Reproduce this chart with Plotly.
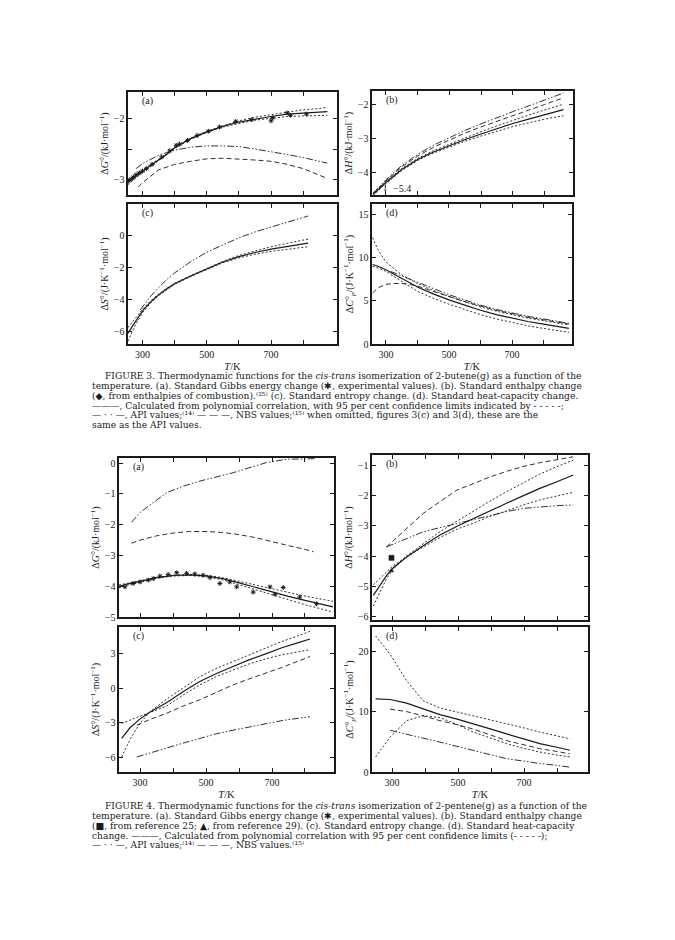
import plotly.graph_objects as go

# ================= DATA =================
# ---- Figure 3 (2-butene) ----
# (a) Gibbs energy
f3a_T = [255, 275, 300, 325, 350, 375, 400, 450, 500, 550, 600, 650, 700, 750, 800, 850, 875]
f3a_calc = [-3.04, -2.96, -2.86, -2.77, -2.68, -2.59, -2.48, -2.33, -2.22, -2.13, -2.06, -2.01, -1.97, -1.93, -1.91, -1.90, -1.89]
f3a_upper = [-3.00, -2.93, -2.84, -2.75, -2.67, -2.58, -2.47, -2.32, -2.21, -2.12, -2.04, -1.98, -1.94, -1.89, -1.86, -1.84, -1.82]
f3a_lower = [-3.08, -2.99, -2.88, -2.79, -2.69, -2.60, -2.49, -2.34, -2.23, -2.14, -2.08, -2.03, -2.00, -1.97, -1.96, -1.95, -1.95]
f3a_api_T = [280, 300, 350, 400, 450, 500, 550, 600, 650, 700, 750, 800, 850, 875]
f3a_api = [-2.82, -2.74, -2.60, -2.52, -2.47, -2.45, -2.45, -2.46, -2.50, -2.54, -2.59, -2.64, -2.70, -2.73]
f3a_nbs_T = [287, 300, 350, 400, 450, 500, 550, 600, 650, 700, 750, 800, 850, 875]
f3a_nbs = [-3.12, -3.05, -2.84, -2.75, -2.70, -2.66, -2.65, -2.66, -2.68, -2.70, -2.75, -2.82, -2.92, -2.98]
f3a_exp_T = [257, 265, 272, 280, 290, 300, 312, 330, 360, 385, 405, 415, 440, 470, 505, 540, 590, 640, 700, 705, 750, 760, 810]
f3a_exp = [-3.02, -2.99, -2.96, -2.92, -2.89, -2.86, -2.82, -2.75, -2.63, -2.53, -2.44, -2.42, -2.36, -2.28, -2.21, -2.14, -2.05, -2.02, -2.04, -1.99, -1.91, -1.95, -1.93]

# (b) enthalpy
f3b_T = [260, 300, 350, 400, 450, 500, 550, 600, 650, 700, 750, 800, 860]
f3b_calc = [-4.65, -4.30, -3.92, -3.62, -3.40, -3.21, -3.03, -2.87, -2.71, -2.56, -2.43, -2.30, -2.15]
f3b_upper = [-4.60, -4.26, -3.89, -3.59, -3.36, -3.17, -2.98, -2.80, -2.63, -2.46, -2.31, -2.16, -1.99]
f3b_lower = [-4.68, -4.33, -3.95, -3.65, -3.43, -3.25, -3.08, -2.93, -2.79, -2.65, -2.54, -2.43, -2.33]
f3b_api = [-4.62, -4.22, -3.80, -3.47, -3.20, -2.97, -2.76, -2.57, -2.38, -2.21, -2.04, -1.87, -1.66]
f3b_nbs = [-4.64, -4.25, -3.84, -3.52, -3.26, -3.04, -2.84, -2.66, -2.49, -2.32, -2.16, -2.00, -1.80]
f3b_comb_T = [298]
f3b_comb = [-5.4]          # off scale: drawn as a marker with a downward arrow

# (c) entropy
f3c_T = [255, 275, 300, 325, 350, 375, 400, 450, 500, 550, 600, 650, 700, 750, 815]
f3c_calc = [-6.10, -5.45, -4.70, -4.15, -3.70, -3.33, -3.00, -2.52, -2.08, -1.64, -1.30, -1.04, -0.83, -0.65, -0.45]
f3c_upper = [-5.75, -5.25, -4.60, -4.08, -3.65, -3.29, -2.97, -2.49, -2.05, -1.60, -1.22, -0.93, -0.68, -0.47, -0.20]
f3c_lower = [-6.60, -5.70, -4.82, -4.22, -3.75, -3.37, -3.04, -2.55, -2.11, -1.68, -1.38, -1.15, -0.97, -0.83, -0.68]
f3c_api_T = [293, 325, 350, 375, 400, 450, 500, 550, 600, 650, 700, 750, 815]
f3c_api = [-4.64, -3.80, -3.25, -2.75, -2.32, -1.62, -1.02, -0.55, -0.12, 0.25, 0.55, 0.85, 1.25]

# (d) heat capacity
f3d_T = [258, 275, 300, 325, 350, 375, 400, 450, 500, 550, 600, 650, 700, 750, 800, 880]
f3d_calc = [9.2, 9.0, 8.6, 8.1, 7.6, 7.1, 6.6, 5.8, 5.1, 4.5, 3.9, 3.4, 3.0, 2.6, 2.3, 1.8]
f3d_upper = [12.3, 10.9, 9.5, 8.7, 8.0, 7.5, 7.0, 6.2, 5.5, 4.9, 4.3, 3.8, 3.4, 3.0, 2.7, 2.2]
f3d_lower = [9.0, 8.8, 8.4, 7.8, 7.2, 6.6, 6.1, 5.3, 4.6, 4.0, 3.4, 2.9, 2.5, 2.1, 1.8, 1.35]
f3d_api_T = [315, 350, 375, 400, 450, 500, 550, 600, 650, 700, 750, 800, 880]
f3d_api = [8.4, 7.9, 7.5, 7.1, 6.4, 5.7, 5.1, 4.5, 4.0, 3.6, 3.2, 2.9, 2.4]
f3d_nbs = [5.9, 6.5, 6.9, 7.0, 7.0, 6.9, 6.7, 6.1, 5.5, 4.9, 4.4, 3.9, 3.5, 3.1, 2.8, 2.3]

# ---- Figure 4 (2-pentene) ----
# (a) Gibbs energy
f4a_T = [236, 260, 300, 350, 400, 450, 500, 550, 600, 650, 700, 750, 800, 850, 885]
f4a_calc = [-4.00, -3.93, -3.84, -3.72, -3.65, -3.63, -3.66, -3.75, -3.89, -4.04, -4.19, -4.33, -4.46, -4.58, -4.67]
f4a_upper = [-3.96, -3.90, -3.82, -3.71, -3.64, -3.62, -3.64, -3.72, -3.84, -3.97, -4.10, -4.21, -4.32, -4.42, -4.49]
f4a_lower = [-4.05, -3.97, -3.87, -3.74, -3.67, -3.65, -3.69, -3.79, -3.95, -4.11, -4.28, -4.45, -4.60, -4.74, -4.84]
f4a_api_T = [274, 300, 350, 380, 430, 481, 530, 582, 630, 683, 744, 790, 835]
f4a_api = [-1.92, -1.60, -1.20, -0.96, -0.75, -0.58, -0.45, -0.31, -0.15, 0.02, 0.13, 0.15, 0.15]
f4a_nbs_T = [274, 300, 350, 400, 450, 500, 550, 600, 650, 700, 750, 800, 826]
f4a_nbs = [-2.60, -2.50, -2.36, -2.27, -2.22, -2.22, -2.25, -2.32, -2.42, -2.56, -2.68, -2.80, -2.88]
f4a_exp_T = [254, 279, 300, 325, 340, 360, 385, 411, 441, 466, 491, 512, 542, 572, 593, 643, 694, 709, 734, 784, 835]
f4a_exp = [-4.02, -3.91, -3.86, -3.80, -3.75, -3.67, -3.62, -3.56, -3.58, -3.60, -3.64, -3.72, -3.91, -3.86, -4.02, -4.19, -4.02, -4.26, -4.04, -4.35, -4.57]

# (b) enthalpy
f4b_T = [243, 283, 300, 344, 400, 445, 500, 546, 600, 647, 700, 748, 800, 849]
f4b_calc = [-5.30, -4.65, -4.42, -4.03, -3.62, -3.31, -3.00, -2.76, -2.49, -2.26, -2.00, -1.77, -1.55, -1.33]
f4b_conf1 = [-5.65, -4.75, -4.47, -4.00, -3.55, -3.20, -2.83, -2.52, -2.17, -1.88, -1.57, -1.30, -1.05, -0.84]
f4b_conf2 = [-4.95, -4.55, -4.35, -4.02, -3.66, -3.39, -3.10, -2.92, -2.68, -2.50, -2.31, -2.15, -2.02, -1.90]
f4b_ref_T = [283, 350, 395, 450, 496, 550, 597, 650, 697, 750, 800, 849]
f4b_api = [-3.70, -3.40, -3.20, -3.05, -2.93, -2.78, -2.65, -2.53, -2.43, -2.38, -2.34, -2.32]
f4b_nbs = [-3.70, -3.05, -2.59, -2.17, -1.83, -1.60, -1.39, -1.20, -1.05, -0.92, -0.82, -0.73]
f4b_ref25_T = [298]
f4b_ref25 = [-4.06]
f4b_ref29_T = [298]
f4b_ref29 = [-4.49]

# (c) entropy
f4c_T = [244, 270, 300, 330, 380, 430, 481, 530, 582, 630, 683, 730, 780, 815]
f4c_calc = [-4.35, -3.40, -2.65, -2.05, -1.25, -0.30, 0.58, 1.25, 1.88, 2.45, 3.00, 3.50, 3.95, 4.26]
f4c_conf1 = [-5.95, -4.40, -3.00, -2.05, -0.95, 0.05, 1.00, 1.70, 2.30, 2.90, 3.50, 4.05, 4.55, 4.92]
f4c_conf2 = [-3.04, -2.75, -2.45, -2.10, -1.55, -0.60, 0.29, 1.00, 1.60, 2.10, 2.55, 2.90, 3.15, 3.33]
f4c_ref_T = [290, 330, 380, 430, 481, 530, 582, 630, 683, 730, 780, 815]
f4c_api = [-5.95, -5.60, -5.20, -4.75, -4.35, -3.95, -3.63, -3.35, -3.05, -2.80, -2.60, -2.47]
f4c_nbs = [-3.20, -2.70, -2.17, -1.55, -1.00, -0.35, 0.29, 0.80, 1.30, 1.80, 2.35, 2.75]

# (d) heat capacity
f4d_T = [250, 294, 344, 394, 445, 500, 546, 600, 647, 700, 748, 800, 839]
f4d_calc = [12.1, 12.0, 11.4, 10.4, 9.5, 8.7, 8.0, 7.1, 6.3, 5.4, 4.7, 4.1, 3.6]
f4d_conf1 = [22.5, 19.5, 15.1, 11.8, 10.6, 9.9, 9.3, 8.6, 8.0, 7.3, 6.6, 6.0, 5.5]
f4d_conf2 = [2.5, 5.8, 8.5, 9.3, 9.0, 7.8, 6.6, 5.6, 4.7, 3.9, 3.3, 2.8, 2.5]
f4d_ref_T = [294, 344, 394, 445, 500, 546, 600, 647, 700, 748, 800, 839]
f4d_api = [6.9, 6.3, 5.6, 4.95, 4.2, 3.6, 2.9, 2.2, 1.8, 1.4, 1.1, 0.8]
f4d_nbs = [10.4, 10.0, 9.3, 8.5, 7.8, 7.1, 6.1, 5.2, 4.5, 3.85, 3.4, 3.0]

# tick values / labels
x_major = [300, 500, 700]
x_major_text = ["300", "500", "700"]
x_minor = [400, 600, 800]

# ================= FIGURE =================
W, H = 675, 940
FONT = "Liberation Serif, DejaVu Serif, serif"
CAPFONT = "DejaVu Serif, Liberation Serif, serif"
INK = "#1a1a1a"

STY = {
    "calc": dict(color=INK, width=1.2),
    "conf": dict(color=INK, width=0.9, dash="2px,2px"),
    "api": dict(color=INK, width=0.9, dash="7px,2px,1.5px,2px,1.5px,2px"),
    "nbs": dict(color=INK, width=0.9, dash="5px,3px"),
}

# panel boxes in pixels: left, right, top, bottom
boxes = {
    1: (128, 337, 92, 195),
    2: (372, 573, 91, 195),
    3: (128, 337, 204, 344),
    4: (372, 572, 204, 344),
    5: (119, 334, 458, 617),
    6: (372, 588, 455, 620),
    7: (119, 334, 627, 772),
    8: (372, 588, 627, 772),
}
xranges = {1: [255, 905], 2: [256, 890], 3: [255, 905], 4: [256, 890],
           5: [236, 888], 6: [239, 894], 7: [236, 888], 8: [239, 894]}
yranges = {1: [-3.25, -1.57], 2: [-4.67, -1.60], 3: [-6.78, 2.0], 4: [0, 16.2],
           5: [-5.0, 0.17], 6: [-6.11, -0.67], 7: [-7.25, 5.3], 8: [0, 24.0]}
yticks = {
    1: ([-3, -2], ["−3", "−2"], [-2.5]),
    2: ([-4, -3, -2], ["−4", "−3", "−2"], []),
    3: ([-6, -4, -2, 0], ["−6", "−4", "−2", "0"], []),
    4: ([0, 5, 10, 15], ["0", "5", "10", "15"], []),
    5: ([-5, -4, -3, -2, -1, 0], ["−5", "−4", "−3", "−2", "−1", "0"], []),
    6: ([-6, -5, -4, -3, -2, -1], ["−6", "−5", "−4", "−3", "−2", "−1"], []),
    7: ([-6, -3, 0, 3], ["−6", "−3", "0", "3"], []),
    8: ([0, 10, 20], ["0", "10", "20"], []),
}
ytitles = {
    1: "Δ<i>G</i>°/(kJ·mol<sup>−1</sup>)",
    2: "Δ<i>H</i>°/(kJ·mol<sup>−1</sup>)",
    3: "Δ<i>S</i>°/(J·K<sup>−1</sup>·mol<sup>−1</sup>)",
    4: "Δ<i>C</i>°<sub><i>p</i></sub>/(J·K<sup>−1</sup>·mol<sup>−1</sup>)",
    5: "Δ<i>G</i>°/(kJ·mol<sup>−1</sup>)",
    6: "Δ<i>H</i>°/(kJ·mol<sup>−1</sup>)",
    7: "Δ<i>S</i>°/(J·K<sup>−1</sup>·mol<sup>−1</sup>)",
    8: "Δ<i>C</i>°<sub><i>p</i></sub>/(J·K<sup>−1</sup>·mol<sup>−1</sup>)",
}
bottom_panels = {3, 4, 7, 8}
letters = {1: "(a)", 2: "(b)", 3: "(c)", 4: "(d)", 5: "(a)", 6: "(b)", 7: "(c)", 8: "(d)"}

fig = go.Figure()


def line(i, xs, ys, kind):
    fig.add_trace(go.Scatter(x=xs, y=ys, mode="lines", line=STY[kind],
                             xaxis=f"x{i}", yaxis=f"y{i}", showlegend=False,
                             hoverinfo="skip"))


def pts(i, xs, ys, symbol, size, lw=0.6):
    fig.add_trace(go.Scatter(x=xs, y=ys, mode="markers",
                             marker=dict(symbol=symbol, size=size, color=INK,
                                         line=dict(width=lw, color=INK)),
                             xaxis=f"x{i}", yaxis=f"y{i}", showlegend=False,
                             hoverinfo="skip"))


# Fig 3
line(1, f3a_T, f3a_upper, "conf"); line(1, f3a_T, f3a_lower, "conf"); line(1, f3a_T, f3a_calc, "calc")
line(1, f3a_api_T, f3a_api, "api"); line(1, f3a_nbs_T, f3a_nbs, "nbs")
pts(1, f3a_exp_T, f3a_exp, "asterisk-open", 4, 1.0)

line(2, f3b_T, f3b_upper, "conf"); line(2, f3b_T, f3b_lower, "conf"); line(2, f3b_T, f3b_calc, "calc")
line(2, f3b_T, f3b_api, "api"); line(2, f3b_T, f3b_nbs, "nbs")
# off-scale combustion point: diamond just above the axis with an arrow pointing down
ylo2 = yranges[2][0]
fig.add_trace(go.Scatter(x=[f3b_comb_T[0], f3b_comb_T[0]], y=[ylo2 + 0.30, ylo2 + 0.02],
                         mode="lines+markers", line=dict(color=INK, width=1),
                         marker=dict(symbol=["diamond", "arrow"], angleref="previous",
                                     size=[5, 6], color=INK),
                         xaxis="x2", yaxis="y2", showlegend=False, hoverinfo="skip"))

line(3, f3c_T, f3c_upper, "conf"); line(3, f3c_T, f3c_lower, "conf"); line(3, f3c_T, f3c_calc, "calc")
line(3, f3c_api_T, f3c_api, "api")

line(4, f3d_T, f3d_upper, "conf"); line(4, f3d_T, f3d_lower, "conf"); line(4, f3d_T, f3d_calc, "calc")
line(4, f3d_api_T, f3d_api, "api"); line(4, f3d_T, f3d_nbs, "nbs")

# Fig 4
line(5, f4a_T, f4a_upper, "conf"); line(5, f4a_T, f4a_lower, "conf"); line(5, f4a_T, f4a_calc, "calc")
line(5, f4a_api_T, f4a_api, "api"); line(5, f4a_nbs_T, f4a_nbs, "nbs")
pts(5, f4a_exp_T, f4a_exp, "asterisk-open", 4, 1.0)

line(6, f4b_T, f4b_conf1, "conf"); line(6, f4b_T, f4b_conf2, "conf"); line(6, f4b_T, f4b_calc, "calc")
line(6, f4b_ref_T, f4b_api, "api"); line(6, f4b_ref_T, f4b_nbs, "nbs")
pts(6, f4b_ref25_T, f4b_ref25, "square", 5)
pts(6, f4b_ref29_T, f4b_ref29, "triangle-up", 4)

line(7, f4c_T, f4c_conf1, "conf"); line(7, f4c_T, f4c_conf2, "conf"); line(7, f4c_T, f4c_calc, "calc")
line(7, f4c_ref_T, f4c_api, "api"); line(7, f4c_ref_T, f4c_nbs, "nbs")

line(8, f4d_T, f4d_conf1, "conf"); line(8, f4d_T, f4d_conf2, "conf"); line(8, f4d_T, f4d_calc, "calc")
line(8, f4d_ref_T, f4d_api, "api"); line(8, f4d_ref_T, f4d_nbs, "nbs")

layout = dict(width=W, height=H, margin=dict(l=0, r=0, t=0, b=0),
              paper_bgcolor="white", plot_bgcolor="white",
              font=dict(family=FONT, size=10, color=INK), showlegend=False)

axis_common = dict(showline=True, linecolor=INK, linewidth=1.6, mirror="ticks",
                   ticks="inside", ticklen=4, tickwidth=1, tickcolor=INK,
                   showgrid=False, zeroline=False, fixedrange=True, automargin=False,
                   tickfont=dict(family=FONT, size=10, color=INK))

for i, (l, r, t, b) in boxes.items():
    xd = [l / W, r / W]
    yd = [1 - b / H, 1 - t / H]
    xa = dict(axis_common, domain=xd, range=xranges[i], anchor=f"y{i}",
              tickvals=x_major, ticktext=x_major_text,
              showticklabels=(i in bottom_panels),
              minor=dict(tickvals=x_minor, ticks="inside", ticklen=4, tickwidth=1,
                         tickcolor=INK, showgrid=False))
    if i in bottom_panels:
        xa["title"] = dict(text="<i>T</i>/K", font=dict(family=FONT, size=10.5), standoff=4)
    yv, yt, ym = yticks[i]
    ya = dict(axis_common, domain=yd, range=yranges[i], anchor=f"x{i}",
              tickvals=yv, ticktext=yt,
              title=dict(text=ytitles[i], font=dict(family=FONT, size=10), standoff=3))
    if ym:
        ya["minor"] = dict(tickvals=ym, ticks="inside", ticklen=4, tickwidth=1,
                           tickcolor=INK, showgrid=False)
    layout[f"xaxis{i}"] = xa
    layout[f"yaxis{i}"] = ya

fig.update_layout(**layout)

# panel letters
for i, (l, r, t, b) in boxes.items():
    fig.add_annotation(x=(l + 12) / W, y=1 - (t + 9) / H, xref="paper", yref="paper",
                       text=letters[i], showarrow=False, xanchor="left", yanchor="middle",
                       font=dict(family=FONT, size=10, color=INK))

# value label of the off-scale point in 3(b)
fig.add_annotation(x=f3b_comb_T[0] + 18, y=ylo2 + 0.2, xref="x2", yref="y2",
                   text=f"−{abs(f3b_comb[0])}", showarrow=False, xanchor="left",
                   font=dict(family=FONT, size=10, color=INK))

# captions
cap3 = [
    (103, "FIGURE 3. Thermodynamic functions for the <i>cis-trans</i> isomerization of 2-butene(g) as a function of the"),
    (90, "temperature. (a). Standard Gibbs energy change (✱, experimental values). (b). Standard enthalpy change"),
    (90, "(◆, from enthalpies of combustion).⁽²⁵⁾ (c). Standard entropy change. (d). Standard heat-capacity change."),
    (90, "———, Calculated from polynomial correlation, with 95 per cent confidence limits indicated by - - - - -;"),
    (90, "— · · —, API values;⁽¹⁴⁾ — — —, NBS values;⁽¹⁵⁾ when omitted, figures 3(c) and 3(d), these are the"),
    (90, "same as the API values."),
]
cap4 = [
    (103, "FIGURE 4. Thermodynamic functions for the <i>cis-trans</i> isomerization of 2-pentene(g) as a function of the"),
    (90, "temperature. (a). Standard Gibbs energy change (✱, experimental values). (b). Standard enthalpy change"),
    (90, "(■, from reference 25; ▲, from reference 29). (c). Standard entropy change. (d). Standard heat-capacity"),
    (90, "change. ———, Calculated from polynomial correlation with 95 per cent confidence limits (- - - - -);"),
    (90, "— · · —, API values;⁽¹⁴⁾ — — —, NBS values.⁽¹⁵⁾"),
]
for start, cap in ((376, cap3), (806, cap4)):
    for k, (x0, txt) in enumerate(cap):
        fig.add_annotation(x=x0 / W, y=1 - (start + k * 9.85) / H, xref="paper", yref="paper",
                           text=txt, showarrow=False, xanchor="left", yanchor="middle",
                           font=dict(family=CAPFONT, size=9.15, color=INK))

fig.write_html("out.html", config={"displayModeBar": False, "staticPlot": True},
               post_script="document.body.style.margin='0';")
